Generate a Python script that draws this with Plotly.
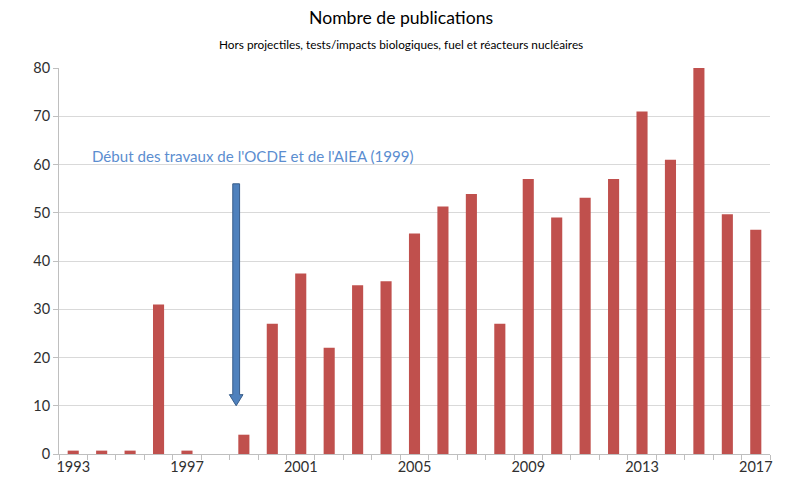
import plotly.graph_objects as go

years = [str(y) for y in range(1993, 2018)]
publications = [0.7, 0.7, 0.7, 31, 0.7, 0, 4, 27, 37.4, 22, 35, 35.8, 45.7, 51.3,
                53.9, 27, 57, 49, 53.1, 57, 71, 61, 80, 49.7, 46.5]
label_years = ["1993", "1997", "2001", "2005", "2009", "2013", "2017"]

title_text = "Nombre de publications"
subtitle_text = "Hors projectiles, tests/impacts biologiques, fuel et réacteurs nucléaires"
note_text = "Début des travaux de l'OCDE et de l'AIEA (1999)"

FONT = "Lato, 'Liberation Sans', sans-serif"

fig = go.Figure()
fig.add_trace(go.Bar(
    x=years, y=publications,
    marker=dict(color="#c0504d", line=dict(width=0)),
    hoverinfo="x+y",
))

# arrow (1999 marker)
ax = years.index("1999") - 0.27
top, neck, tip = 56, 12.3, 10.0
sw, hw = 0.12, 0.24
path = (f"M {ax-sw},{top} L {ax+sw},{top} L {ax+sw},{neck} L {ax+hw},{neck} "
        f"L {ax},{tip} L {ax-hw},{neck} L {ax-sw},{neck} Z")
fig.add_shape(type="path", path=path, xref="x", yref="y",
              fillcolor="#4f81bd", line=dict(color="#385d8a", width=1), layer="above")

fig.add_annotation(text=note_text, xref="paper", yref="paper", x=0.044, y=0.772,
                   xanchor="left", yanchor="middle", showarrow=False,
                   font=dict(family=FONT, size=15.1, color="#5b8dd0"))

fig.add_annotation(text=title_text, xref="paper", yref="paper", x=0.481, y=1,
                   xanchor="center", yanchor="middle", showarrow=False,
                   yshift=51, font=dict(family=FONT, size=17.6, color="#000000"))
fig.add_annotation(text=subtitle_text, xref="paper", yref="paper", x=0.481, y=1,
                   xanchor="center", yanchor="middle", showarrow=False,
                   yshift=24, font=dict(family=FONT, size=11.8, color="#000000"))

ticktext = [y if y in label_years else "" for y in years]

fig.update_layout(
    width=785, height=487,
    margin=dict(l=59, r=13, t=68, b=25),
    paper_bgcolor="white", plot_bgcolor="white",
    showlegend=False, bargap=0.61,
    font=dict(family=FONT, size=14, color="#404040"),
    xaxis=dict(type="category", tickmode="array", tickvals=years, ticktext=ticktext,
               tickson="boundaries", ticks="outside", ticklen=5, tickcolor="#bfbfbf",
               showline=True, linecolor="#bfbfbf", linewidth=1, showgrid=False,
               tickfont=dict(size=14.5, color="#303030"), tickangle=0),
    yaxis=dict(range=[0, 80], dtick=10, showgrid=True, gridcolor="#d9d9d9", gridwidth=1,
               showline=True, linecolor="#bfbfbf", linewidth=1,
               ticks="outside", ticklen=5, tickcolor="#bfbfbf",
               tickfont=dict(size=14.5, color="#303030"), zeroline=False),
)

fig.write_html("out.html", config={"displayModeBar": False},
               post_script="document.body.style.margin='0';")
